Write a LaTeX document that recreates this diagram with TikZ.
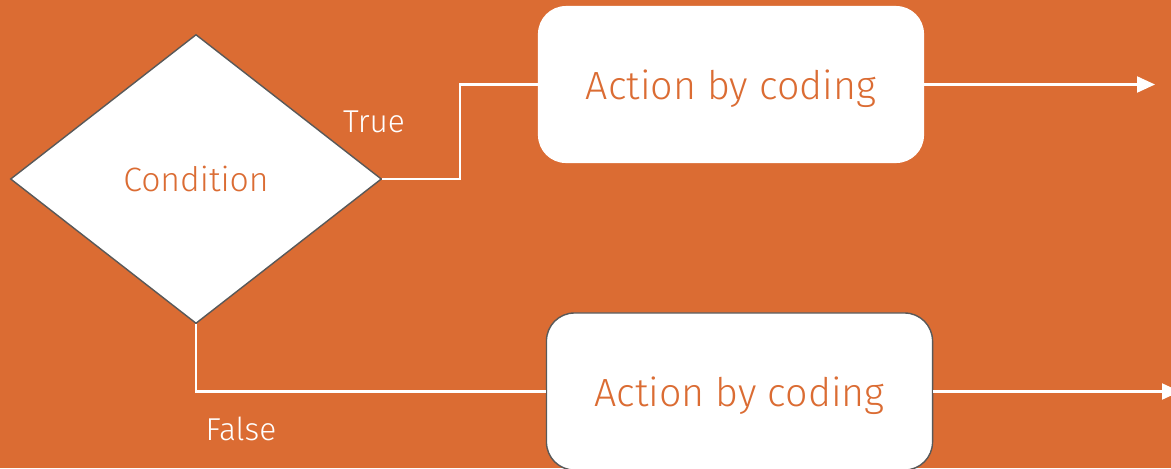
\documentclass[tikz,border=0pt]{standalone}
\usepackage{fontspec}
\setmainfont{Fira Sans Light}
\usetikzlibrary{shapes.geometric,arrows.meta}
\definecolor{bgorange}{RGB}{219,108,51}
\definecolor{edgegray}{RGB}{89,89,89}
\begin{document}
\begin{tikzpicture}[x=0.025cm,y=-0.025cm,
	decision/.style={diamond,fill=white,draw=edgegray,line width=1pt,minimum width=9.275cm,minimum height=7.225cm,inner sep=0pt,text=bgorange,font=\fontsize{24}{28}\selectfont},
	action/.style={rectangle,rounded corners=0.7cm,fill=white,minimum width=9.65cm,minimum height=3.925cm,text depth=0pt,text=bgorange,font=\fontsize{28}{33}\selectfont},
	link/.style={white,line width=1.5pt},
	branch/.style={text=white,font=\fontsize{22.5}{27}\selectfont}]
\useasboundingbox[fill=bgorange] (0,0) rectangle (1171,468);
\node[decision] (cond) at (196,179) {Condition};
\node[action] (act1) at (731,84.5) {Action by coding};
\node[action,draw=edgegray,line width=1pt] (act2) at (739.5,391.5) {Action by coding};
\node[branch] (true) at (374,122) {True};
\node[branch] (false) at (241,429) {False};
\coordinate (out1) at (1155,0);
\coordinate (out2) at (1180,0);
\draw[link] (cond.east) -- ++(78,0) |- (act1.west);
\draw[link] (cond.south) |- (act2.west);
\draw[link,-{Triangle[length=0.45cm,width=0.4cm]}] (act1.east) -- (act1.east -| out1);
\draw[link,-{Triangle[length=0.45cm,width=0.4cm]}] (act2.east) -- (act2.east -| out2);
\end{tikzpicture}
\end{document}
